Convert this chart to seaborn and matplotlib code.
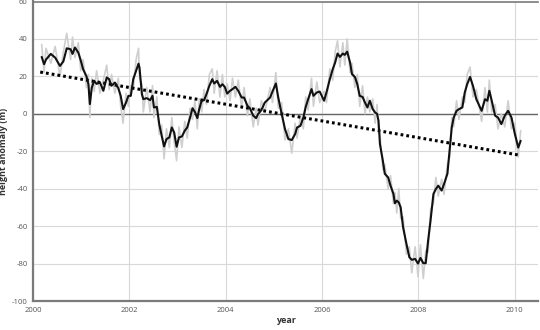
import matplotlib
matplotlib.use("Agg")
import matplotlib.pyplot as plt
import seaborn as sns
import pandas as pd

years = [
    2000.18, 2000.23, 2000.27, 2000.37, 2000.46, 2000.56, 2000.63, 2000.70, 2000.78, 2000.82,
    2000.87, 2000.94, 2000.99, 2001.04, 2001.11, 2001.15, 2001.18, 2001.22, 2001.27, 2001.32,
    2001.39, 2001.46, 2001.53, 2001.58, 2001.63, 2001.70, 2001.77, 2001.82, 2001.87, 2001.93,
    2001.98, 2002.03, 2002.08, 2002.14, 2002.19, 2002.21, 2002.26, 2002.29, 2002.36, 2002.43,
    2002.48, 2002.51, 2002.57, 2002.62, 2002.67, 2002.72, 2002.77, 2002.83, 2002.88, 2002.93,
    2002.98, 2003.03, 2003.09, 2003.15, 2003.20, 2003.26, 2003.31, 2003.36, 2003.41, 2003.45,
    2003.50, 2003.55, 2003.60, 2003.66, 2003.72, 2003.76, 2003.82, 2003.88, 2003.93, 2003.98,
    2004.03, 2004.09, 2004.14, 2004.20, 2004.26, 2004.33, 2004.38, 2004.45, 2004.50, 2004.57,
    2004.63, 2004.67, 2004.74, 2004.81, 2004.92, 2004.97, 2005.04, 2005.09, 2005.16, 2005.23,
    2005.30, 2005.37, 2005.44, 2005.48, 2005.55, 2005.61, 2005.66, 2005.71, 2005.78, 2005.82,
    2005.89, 2005.95, 2006.04, 2006.09, 2006.16, 2006.22, 2006.27, 2006.32, 2006.37, 2006.43,
    2006.47, 2006.52, 2006.58, 2006.62, 2006.68, 2006.73, 2006.78, 2006.84, 2006.89, 2006.94,
    2006.99, 2007.05, 2007.10, 2007.14, 2007.17, 2007.20, 2007.26, 2007.30, 2007.37, 2007.42,
    2007.48, 2007.51, 2007.55, 2007.59, 2007.63, 2007.68, 2007.75, 2007.81, 2007.86, 2007.93,
    2007.99, 2008.04, 2008.10, 2008.15, 2008.20, 2008.25, 2008.31, 2008.36, 2008.41, 2008.48,
    2008.53, 2008.60, 2008.65, 2008.69, 2008.73, 2008.79, 2008.84, 2008.91, 2008.96, 2009.01,
    2009.07, 2009.13, 2009.20, 2009.31, 2009.38, 2009.43, 2009.47, 2009.52, 2009.59, 2009.65,
    2009.72, 2009.79, 2009.86, 2009.93, 2010.00, 2010.07, 2010.12,
]

smoothed = [
    30.4, 26.5, 29, 32, 30, 25.6, 28, 35, 34.5, 32,
    35.4, 32.7, 28.6, 23.8, 20, 15.8, 5.2, 14, 17.6, 16,
    16.7, 12.3, 19.4, 18.5, 15, 16.7, 13.7, 9.6, 2.5, 6,
    9.6, 9.6, 18.5, 23, 26.8, 24.7, 10.5, 7.8, 8.4, 7.3,
    9.6, 3.4, 3.7, -5.5, -11.7, -17.4, -13.5, -12.6, -7.3, -10,
    -17.6, -12.6, -12.1, -9, -7.3, -2, 3, 1, -2.3, 2.5,
    7, 7.3, 10.5, 15, 18.5, 16.2, 17.6, 14.4, 15.8, 14.4,
    10.8, 12.3, 13.2, 14.4, 12.3, 8.7, 8.7, 4.3, 3, -1,
    -2.3, -0.2, 2, 6, 8.7, 11.9, 16.2, 8.7, 0, -8.2,
    -13.5, -14, -10.8, -7.3, -6.4, -2, 3.7, 7.8, 13.2, 9.6,
    11.4, 11.9, 7, 11.4, 18.5, 23.8, 27.4, 32.2, 30.4, 32.2,
    31.5, 33.2, 27.4, 21.2, 19.7, 15.8, 9.6, 9, 6, 3.4,
    7, 2.5, 0.7, 0, -3.7, -16.2, -25, -32, -34, -38.4,
    -42.8, -47.8, -46.4, -47.3, -50, -60.6, -69.5, -76.6, -78, -77.5,
    -80, -77, -79.8, -79.8, -67.7, -57, -42.8, -40.2, -38.4, -41,
    -37.5, -32, -18, -7.3, -2, 1.6, 2.5, 3.4, 11.4, 15.8,
    19.7, 15, 7.8, 1.6, 7.8, 7, 12.3, 7, -1, -2,
    -5.5, -1, 1.6, -2, -10.8, -18, -14.4,
]

raw = [
    37, 22, 35, 27, 36, 20, 33, 43, 29, 41,
    30, 38, 23, 29, 14, 21, -2, 19, 12, 23,
    11, 18, 26, 13, 21, 11, 19, 4, -5, 11,
    4, 15, 13, 29, 35, 19, 16, 1, 14, 1,
    15, -2, 9, -11, -6, -24, -8, -18, -2, -15,
    -25, -7, -18, -4, -13, 3, -3, 7, -8, 8,
    1, 13, 5, 21, 24, 11, 23, 9, 21, 9,
    16, 7, 19, 9, 18, 3, 14, -1, 8, -7,
    3, -6, 7, 1, 14, 6, 22, 3, 6, -14,
    -8, -21, -5, -13, -1, -8, 9, 2, 19, 4,
    17, 6, 12, 6, 24, 18, 33, 39, 25, 38,
    26, 40, 22, 27, 14, 21, 4, 15, 0, 9,
    1, 8, -5, 5, -9, -11, -30, -27, -40, -33,
    -48, -42, -53, -40, -56, -55, -75, -71, -85, -71,
    -87, -70, -88, -73, -74, -51, -48, -34, -44, -35,
    -43, -27, -23, -2, -7, 7, -3, 9, 6, 21,
    25, 9, 13, -4, 14, 1, 18, 1, 5, -8,
    0, -7, 7, -8, -5, -23, -9,
]

trend_years = [2000.15, 2010.12]
trend_values = [22.3, -22.2]

x_ticks = [2000, 2002, 2004, 2006, 2008, 2010]
y_ticks = [-100, -80, -60, -40, -20, 0, 20, 40, 60]

sns.set_style("white")
plt.rcParams["font.family"] = ["Open Sans", "DejaVu Sans"]

fig = plt.figure(figsize=(5.4, 3.3), dpi=100)
ax = fig.add_axes([33 / 540, 29 / 330, 505 / 540, 299.5 / 330])

df_raw = pd.DataFrame({"year": years, "value": raw})
df_s = pd.DataFrame({"year": years, "value": smoothed})
df_t = pd.DataFrame({"year": trend_years, "value": trend_values})

ax.axhline(0, color="#666666", lw=1.0, zorder=1)
sns.lineplot(data=df_raw, x="year", y="value", ax=ax, color="#cfcfcf", lw=1.2, zorder=2)
sns.lineplot(data=df_t, x="year", y="value", ax=ax, color="black", lw=2.2,
             linestyle=(0, (0.9, 1.0)), zorder=3)
sns.lineplot(data=df_s, x="year", y="value", ax=ax, color="#111111", lw=1.5, zorder=4)

ax.set_xlim(2000, 2010.48)
ax.set_ylim(-100, 60)
ax.set_xticks(x_ticks)
ax.set_yticks(y_ticks)
ax.set_xticklabels([str(v) for v in x_ticks])
ax.set_yticklabels([str(v) for v in y_ticks])
ax.grid(True, color="#d9d9d9", lw=0.8)
ax.set_axisbelow(True)
ax.tick_params(axis="both", labelsize=5.5, labelcolor="#555555", length=0, pad=4)

for side in ["left", "bottom"]:
    ax.spines[side].set_color("#7a7a7a")
    ax.spines[side].set_linewidth(1.6)
ax.spines["top"].set_color("#7a7a7a")
ax.spines["top"].set_linewidth(1.2)
ax.spines["right"].set_visible(False)

ax.set_xlabel("year", fontsize=6.5, fontweight="bold", color="#333333", labelpad=2)
ax.set_ylabel("height anomaly (m)", fontsize=6.5, fontweight="bold", color="#333333", labelpad=3)

fig.savefig("out.png", dpi=100)
